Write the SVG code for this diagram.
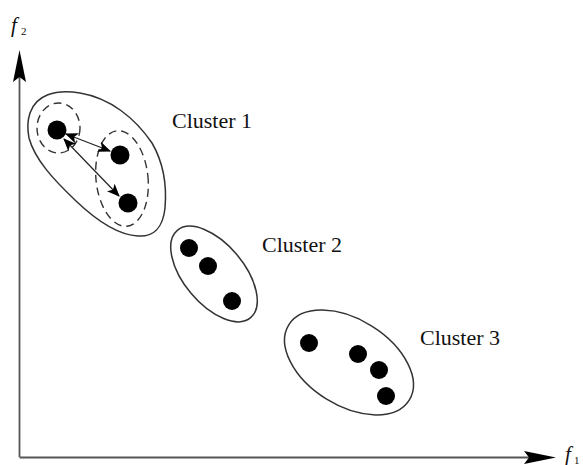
<svg xmlns="http://www.w3.org/2000/svg" width="583" height="465" viewBox="0 0 583 465">
  <style>
    .axis { stroke: #555; stroke-width: 1.8; fill: none; }
    .hull { stroke: #333; stroke-width: 1.5; fill: none; }
    .ring { stroke: #333; stroke-width: 1.4; fill: none; stroke-dasharray: 8 5; }
    .pt { fill: #000; }
    .lbl { font-family: "Liberation Serif", "Times New Roman", serif; font-size: 22px; fill: #111; }
    .var { font-family: "Liberation Serif", "Times New Roman", serif; font-style: italic; font-size: 21px; fill: #111; }
    .sub { font-family: "Liberation Serif", "Times New Roman", serif; font-size: 11px; fill: #111; }
    .link { stroke: #222; stroke-width: 1.2; fill: none; }
  </style>
  <defs>
    <marker id="tip" viewBox="0 0 12 10" refX="11" refY="5" markerWidth="13" markerHeight="11" markerUnits="userSpaceOnUse" orient="auto-start-reverse">
      <path d="M0,0 L12,5 L0,10 L3,5 Z" fill="#000"/>
    </marker>
  </defs>

  <!-- axes -->
  <g id="axes">
    <path class="axis" d="M19.5,457 L19.5,76 M19.5,457.5 L530,457.5"/>
    <path d="M19.5,50 L26,82 L19.5,77 L13,82 Z" fill="#000"/>
    <path d="M556,457.5 L524,451 L529,457.5 L524,464 Z" fill="#000"/>
    <text class="var" x="11" y="32">f</text>
    <text class="sub" x="21" y="35">2</text>
    <text class="var" x="565" y="461">f</text>
    <text class="sub" x="574" y="464">1</text>
  </g>

  <!-- cluster 1 -->
  <g id="cluster1">
    <path class="hull" d="M30,113 C36,95 55,89 80,93 C110,98 135,118 152,143 C163,162 167,185 165,208 C163,228 153,237 138,236 C118,235 98,222 76,201 C54,180 35,160 29,138 C27,128 28,119 30,113 Z"/>
    <ellipse class="ring" cx="58.5" cy="128" rx="21.5" ry="25"/>
    <ellipse class="ring" cx="122" cy="178.5" rx="26" ry="48" transform="rotate(-6 122 178.5)"/>
    <circle class="pt" cx="57" cy="130" r="9.5"/>
    <circle class="pt" cx="120" cy="155" r="9.5"/>
    <circle class="pt" cx="128" cy="203" r="9.5"/>
    <text class="lbl" x="172" y="128">Cluster 1</text>
  </g>

  <!-- cluster 2 -->
  <g id="cluster2">
    <ellipse class="hull" cx="214" cy="274" rx="57" ry="30" transform="rotate(50 214 274)"/>
    <circle class="pt" cx="189" cy="248" r="9"/>
    <circle class="pt" cx="208" cy="266" r="9"/>
    <circle class="pt" cx="232" cy="301" r="9"/>
    <text class="lbl" x="262" y="252">Cluster 2</text>
  </g>

  <!-- cluster 3 -->
  <g id="cluster3">
    <ellipse class="hull" cx="349" cy="362.5" rx="71" ry="43" transform="rotate(32 349 362.5)"/>
    <circle class="pt" cx="309" cy="343" r="9"/>
    <circle class="pt" cx="358" cy="354" r="9"/>
    <circle class="pt" cx="379" cy="370" r="9"/>
    <circle class="pt" cx="386" cy="396" r="9"/>
    <text class="lbl" x="420" y="345">Cluster 3</text>
  </g>

  <!-- distance connectors inside cluster 1 -->
  <g id="connectors">
    <line class="link" x1="66" y1="134" x2="110" y2="151" marker-start="url(#tip)" marker-end="url(#tip)"/>
    <line class="link" x1="64" y1="139" x2="119" y2="196" marker-start="url(#tip)" marker-end="url(#tip)"/>
  </g>
</svg>
